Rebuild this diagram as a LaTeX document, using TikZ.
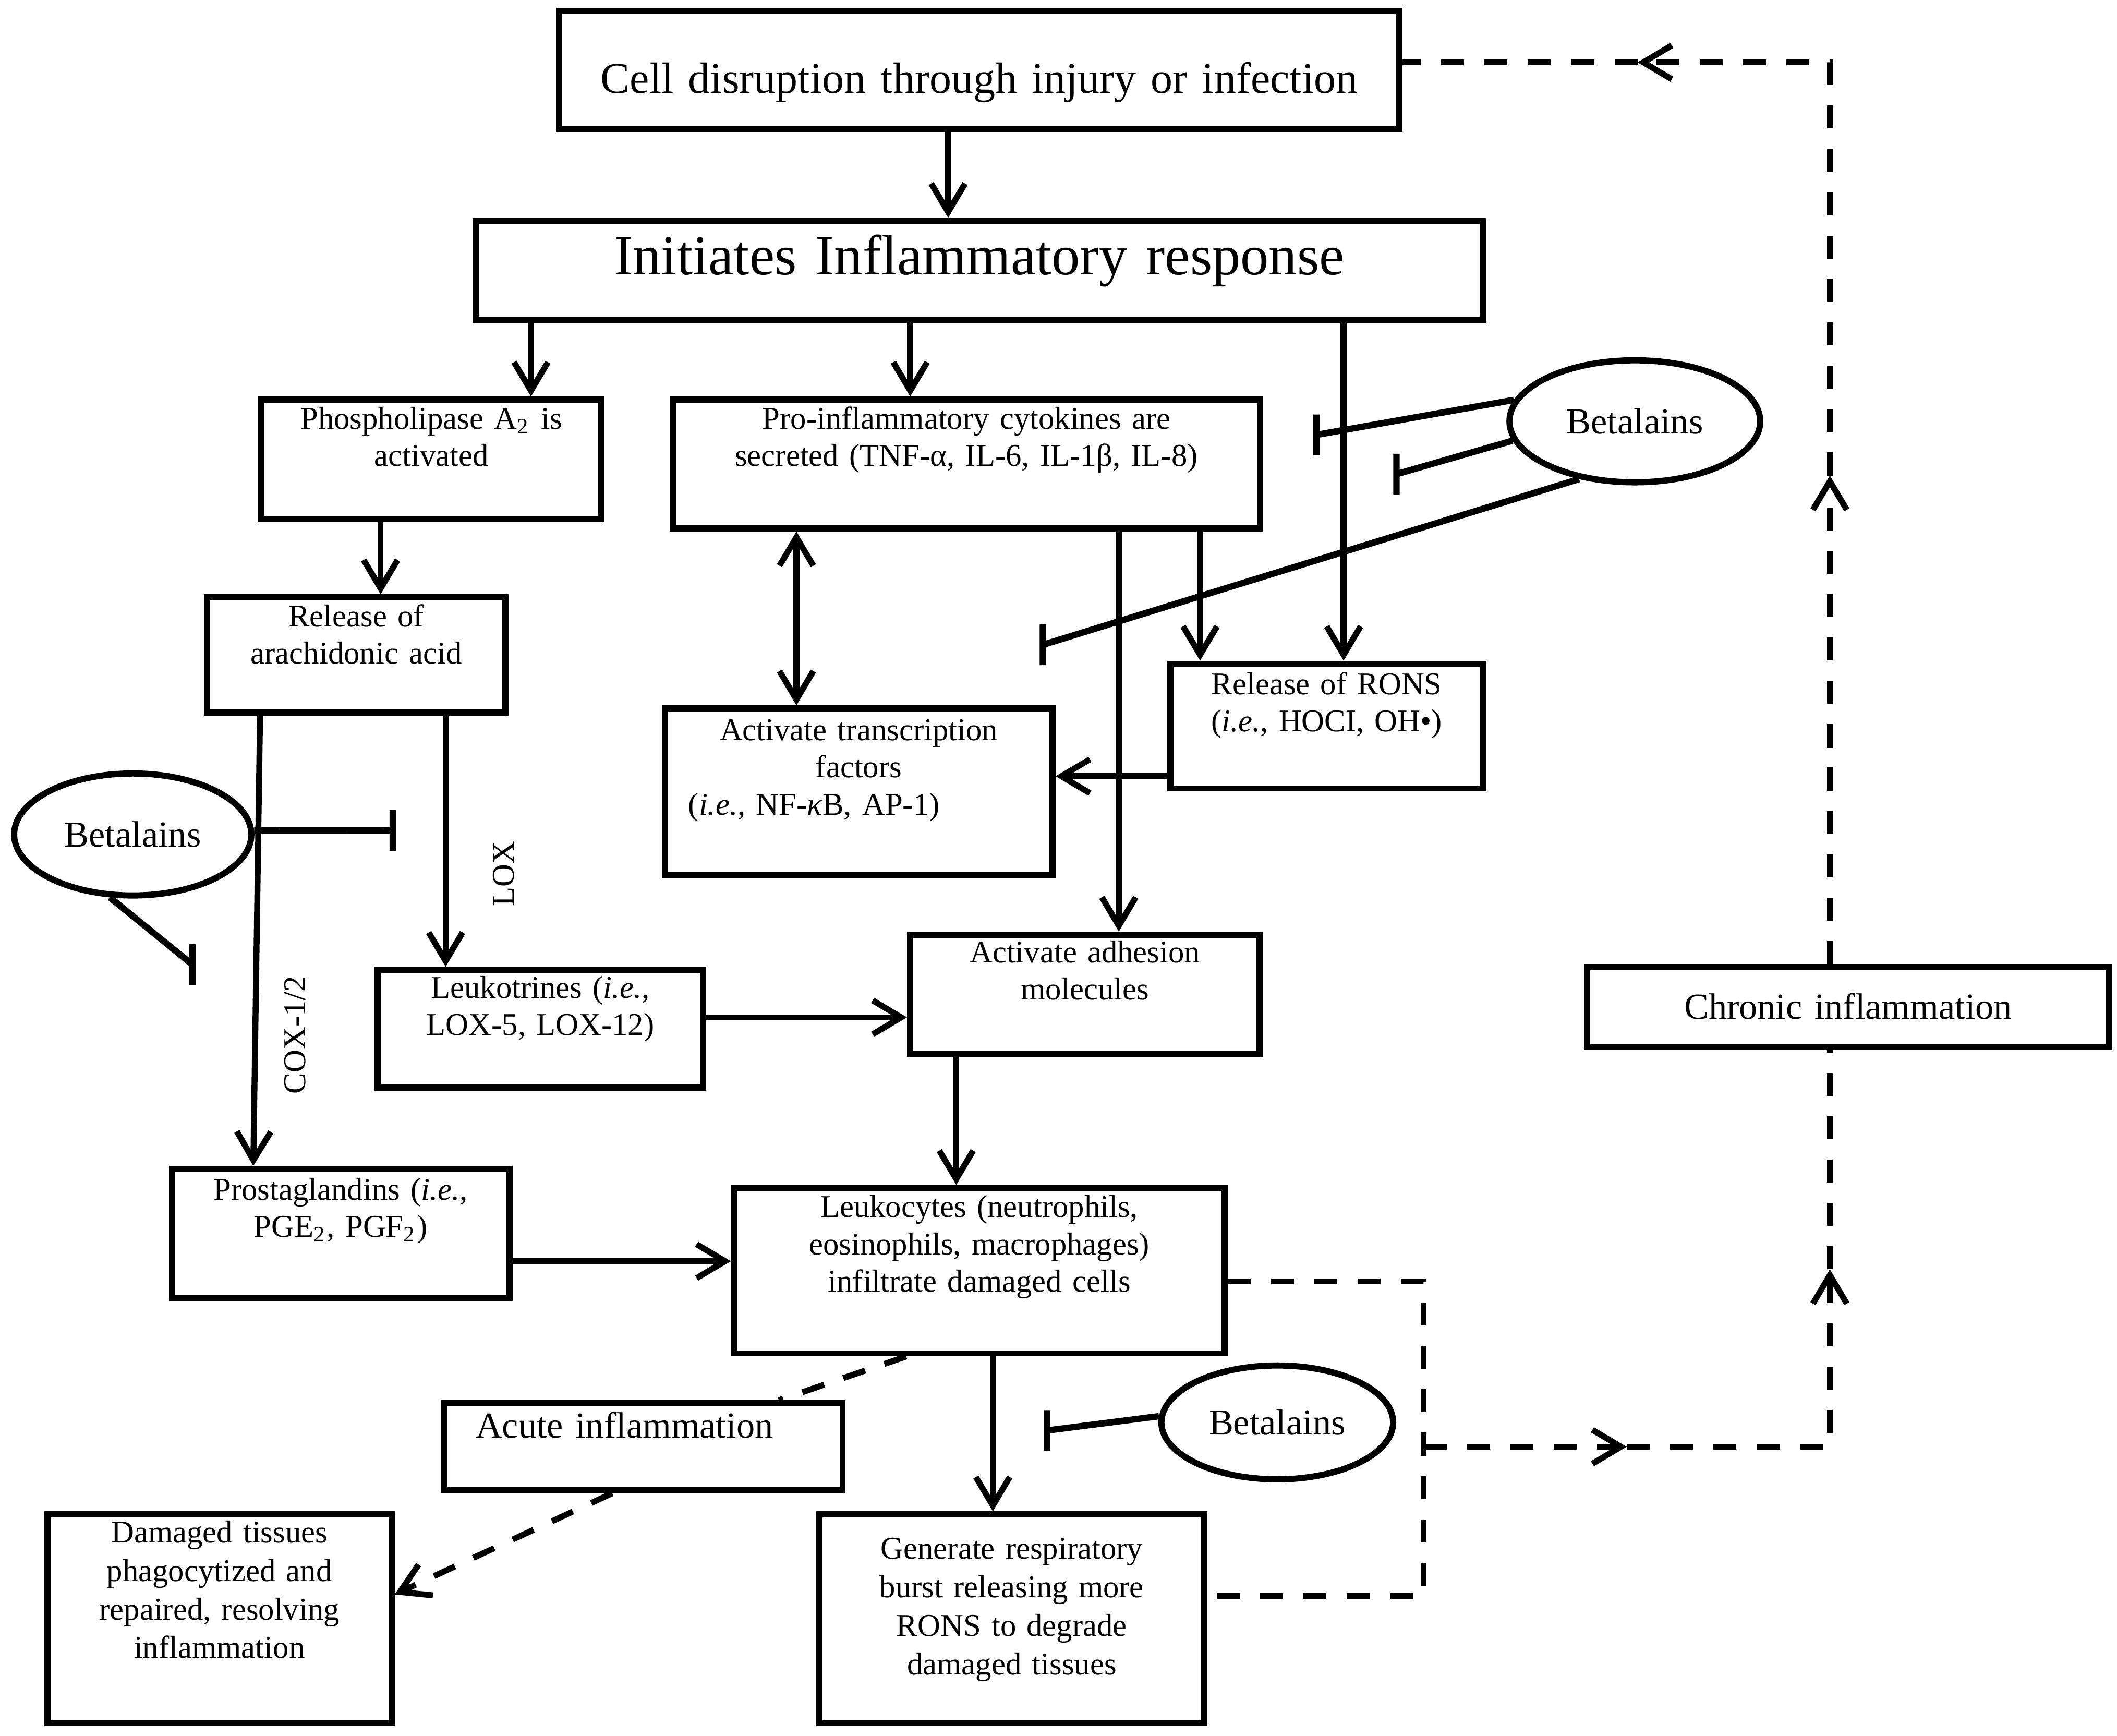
\documentclass[tikz,border=0pt]{standalone}
\usepackage{fontspec}
\setmainfont{Liberation Serif}
\usepackage{tikz}
\usetikzlibrary{positioning,shapes.geometric,arrows.meta}
\tikzstyle{stagebox} = [rectangle, draw, line width=1.3pt, inner sep=0pt, align=center, font=\fontsize{6.65}{7.8}\selectfont]
\tikzstyle{betabox} = [ellipse, draw, line width=1.3pt, inner sep=0pt, font=\fontsize{7.7}{9}\selectfont]
\tikzstyle{arrow} = [line width=1.25pt, >={Straight Barb[length=2.1mm,width=2.5mm]}, ->]
\tikzstyle{inhibit} = [line width=1.35pt]
\tikzstyle{feedback} = [line width=1.25pt, dash pattern=on 1.7mm off 1.5mm]
\tikzstyle{lbl} = [font=\fontsize{6.65}{7.8}\selectfont, inner sep=0pt]

\begin{document}
\begin{tikzpicture}[x=0.01cm, y=-0.01cm]
		\useasboundingbox (0,0) rectangle (1563,1281.5);
		
		% main chain
		\node (cell) [stagebox, font=\fontsize{9.2}{11}\selectfont, text width=6.2cm, text height=6.07mm, text depth=2.63mm] at (723,51.5) {Cell disruption through injury or infection};
		\node (init) [stagebox, below of=cell, node distance=1.48cm, font=\fontsize{11.9}{14}\selectfont, text width=7.43cm, text height=3.95mm, text depth=3.35mm] {Initiates Inflammatory response};
		
		\node (pla2) [stagebox, text width=2.51cm, text height=2.17mm, text depth=6.63mm] at (318.5,339) {Phospholipase A\textsubscript{2} is\\activated};
		\node (cyto) [stagebox, text width=4.33cm, text height=2.17mm, text depth=7.33mm] at (713.5,342.5) {Pro-inflammatory cytokines are\\secreted (TNF-α, IL-6, IL-1β, IL-8)};
		\node (beta1) [betabox, minimum width=1.85cm, minimum height=0.9cm] at (1207,311) {Betalains};
		
		\node (ara) [stagebox, text width=2.2cm, text height=2.17mm, text depth=6.33mm] at (263,483.5) {Release of\\arachidonic acid};
		\node (rons) [stagebox, text width=2.31cm, text height=2.27mm, text depth=6.93mm] at (979.5,536) {Release of RONS\\(\textit{i.e.}, HOCI, OH•)};
		\node (trans) [stagebox, text width=2.86cm, text height=2.37mm, text depth=9.93mm] at (634,584.5) {Activate transcription\\factors\\(\textit{i.e.}, NF-\textit{κ}B, AP-1)\rule{6.6mm}{0pt}};
		
		\node (beta2) [betabox, minimum width=1.75cm, minimum height=0.9cm] at (98,616) {Betalains};
		\node (leuko) [stagebox, text width=2.4cm, text height=2.07mm, text depth=6.63mm] at (399,759.5) {Leukotrines (\textit{i.e.},\\LOX-5, LOX-12)};
		\node (adhes) [stagebox, text width=2.58cm, text height=2.07mm, text depth=6.73mm] at (801,734) {Activate adhesion\\molecules};
		\node (chronic) [stagebox, font=\fontsize{7.7}{9}\selectfont, text width=3.85cm, text height=3.83mm, text depth=2.07mm] at (1364.5,743.5) {Chronic inflammation};
		
		\node (prosta) [stagebox, text width=2.49cm, text height=2.27mm, text depth=7.23mm] at (251.5,910.5) {Prostaglandins (\textit{i.e.},\\PGE\textsubscript{2}, PGF\textsubscript{2})};
		\node (leukoc) [stagebox, text width=3.62cm, text height=2.17mm, text depth=10.03mm] at (723,938) {Leukocytes (neutrophils,\\eosinophils, macrophages)\\infiltrate damaged cells};
		\node (acute) [stagebox, font=\fontsize{7.7}{9}\selectfont, text width=2.94cm, text height=2.53mm, text depth=3.87mm] at (475,1068) {Acute inflammation\rule{2.8mm}{0pt}};
		\node (beta3) [betabox, minimum width=1.71cm, minimum height=0.84cm] at (943,1050) {Betalains};
		
		\node (damaged) [stagebox, font=\fontsize{6.65}{8.1}\selectfont, text width=2.54cm, text height=2.07mm, text depth=13.33mm] at (162,1195) {Damaged tissues\\phagocytized and\\repaired, resolving\\inflammation};
		\node (gen) [stagebox, font=\fontsize{6.65}{8.1}\selectfont, text width=2.84cm, text height=3.27mm, text depth=12.13mm] at (747,1195) {Generate respiratory\\burst releasing more\\RONS to degrade\\damaged tissues};
		
		\node (cox) [lbl, rotate=90] at (218,764) {COX-1/2};
		\node (lox) [lbl, rotate=90] at (372,645) {LOX};
		
		% solid arrows
		\draw [arrow] (cell.south -| 700,0) -- (init.north -| 700,0);
		\draw [arrow] (init.south -| 392,0) -- (pla2.north -| 392,0);
		\draw [arrow] (init.south -| 672,0) -- (cyto.north -| 672,0);
		\draw [arrow] (init.south -| 992,0) -- (rons.north -| 992,0);
		\draw [arrow] (pla2.south -| 281,0) -- (ara.north -| 281,0);
		\draw [arrow, <->] (cyto.south -| 588,0) -- (trans.north -| 588,0);
		\draw [arrow] (cyto.south -| 826,0) -- (adhes.north -| 826,0);
		\draw [arrow] (cyto.south -| 886,0) -- (rons.north -| 886,0);
		\draw [arrow] (rons.west |- 0,573) -- (trans.east |- 0,573);
		\draw [arrow] (ara.south -| 192,0) -- (prosta.north -| 187,0);
		\draw [arrow] (ara.south -| 329,0) -- (leuko.north -| 329,0);
		\draw [arrow] (leuko.east |- 0,751) -- (adhes.west |- 0,751);
		\draw [arrow] (adhes.south -| 706,0) -- (leukoc.north -| 706,0);
		\draw [arrow] (prosta.east |- 0,931) -- (leukoc.west |- 0,931);
		\draw [arrow] (leukoc.south -| 733,0) -- (gen.north -| 733,0);
		
		% betalains block
		\coordinate (barA) at (972,321);
		\coordinate (barB) at (1031,350);
		\coordinate (barC) at (770,476);
		\coordinate (barD) at (290,613);
		\coordinate (barE) at (142,712);
		\coordinate (barF) at (773,1056);
		\draw [inhibit] (beta1.170) -- (barA) ++(0,-15) -- ++(0,30);
		\draw [inhibit] (beta1.189) -- (barB) ++(0,-15) -- ++(0,30);
		\draw [inhibit] (beta1.226) -- (barC) ++(0,-15) -- ++(0,30);
		\draw [inhibit] (beta2.2) -- (barD) ++(0,-15) -- ++(0,30);
		\draw [inhibit] (beta2.250) -- (barE) ++(0,-15) -- ++(0,30);
		\draw [inhibit] (beta3.177) -- (barF) ++(0,-15) -- ++(0,30);
		
		% dashed paths
		\draw [feedback] (leukoc.south -| 669,0) -- (acute.north -| 575,0);
		\draw [arrow, feedback] (acute.south -| 452,0) -- (damaged.east |- 0,1177);
		
		\coordinate (split) at (1051,1068);
		\coordinate (midR) at (1201,1068);
		\coordinate (turnR) at (1351,1068);
		\coordinate (midU) at (1351,937);
		\coordinate (midT) at (1351,351);
		\coordinate (turnT) at (1351,46);
		\coordinate (midL) at (1209,46);
		\draw [feedback] ([yshift=-0.8mm]leukoc.east) -| (split) |- (gen.east |- 0,1178);
		\draw [arrow, feedback] (split) -- (midR);
		\draw [arrow, feedback] (midR) -- (turnR) -- (midU);
		\draw [feedback] (midU) -- (chronic.south -| midU);
		\draw [arrow, feedback] (chronic.north -| midT) -- (midT);
		\draw [arrow, feedback] (midT) -- (turnT) -- (midL);
		\draw [feedback] (midL) -- (cell.east |- midL);
		
	\end{tikzpicture}
\end{document}
